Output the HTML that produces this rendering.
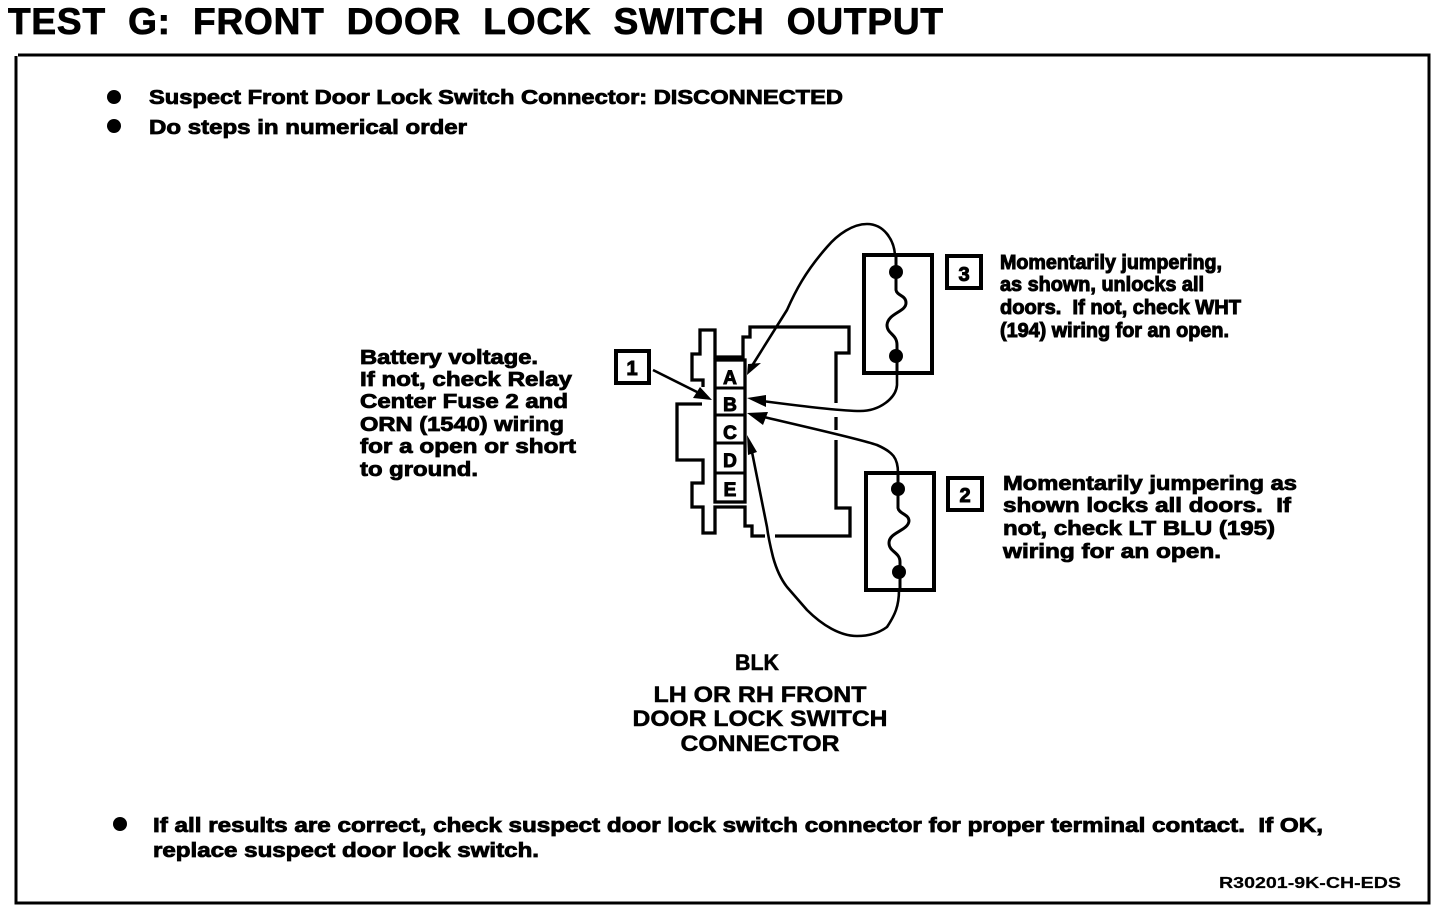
<!DOCTYPE html>
<html><head><meta charset="utf-8"><style>
html,body{margin:0;padding:0;background:#fff}
svg{display:block}
text{font-family:"Liberation Sans",sans-serif;font-weight:bold;fill:#000;stroke:#000;stroke-width:.8;white-space:pre}
.s{font-size:20px}
.m{font-size:20px;stroke-width:1}
.k{font-size:22px;stroke-width:.5}
.l{stroke-width:1}
</style></head><body>
<svg width="1440" height="910" viewBox="0 0 1440 910" xmlns="http://www.w3.org/2000/svg">
<text x="8" y="34" font-size="37" textLength="935" lengthAdjust="spacing" style="stroke-width:.8">TEST  G:  FRONT  DOOR  LOCK  SWITCH  OUTPUT</text>
<path d="M18 55H1429V903H16V56" fill="none" stroke="#000" stroke-width="3"/>
<circle cx="114" cy="97" r="7"/><circle cx="114" cy="126" r="7"/><circle cx="120" cy="824" r="7"/>
<text class="s" x="149" y="104" textLength="694" lengthAdjust="spacingAndGlyphs">Suspect Front Door Lock Switch Connector: DISCONNECTED</text>
<text class="s" x="149" y="134" textLength="318" lengthAdjust="spacingAndGlyphs">Do steps in numerical order</text>
<text class="s" x="360" y="364" textLength="178" lengthAdjust="spacingAndGlyphs">Battery voltage.</text>
<text class="s" x="360" y="386" textLength="212" lengthAdjust="spacingAndGlyphs">If not, check Relay</text>
<text class="s" x="360" y="408" textLength="208" lengthAdjust="spacingAndGlyphs">Center Fuse 2 and</text>
<text class="s" x="360" y="431" textLength="204" lengthAdjust="spacingAndGlyphs">ORN (1540) wiring</text>
<text class="s" x="360" y="453" textLength="216" lengthAdjust="spacingAndGlyphs">for a open or short</text>
<text class="s" x="360" y="476" textLength="118" lengthAdjust="spacingAndGlyphs">to ground.</text>
<text class="m" x="1000" y="269" textLength="222" lengthAdjust="spacingAndGlyphs">Momentarily jumpering,</text>
<text class="m" x="1000" y="291" textLength="204" lengthAdjust="spacingAndGlyphs">as shown, unlocks all</text>
<text class="m" x="1000" y="314" textLength="241" lengthAdjust="spacingAndGlyphs">doors.  If not, check WHT</text>
<text class="m" x="1000" y="337" textLength="229" lengthAdjust="spacingAndGlyphs">(194) wiring for an open.</text>
<text class="s" x="1003" y="490" textLength="294" lengthAdjust="spacingAndGlyphs">Momentarily jumpering as</text>
<text class="s" x="1003" y="512" textLength="288" lengthAdjust="spacingAndGlyphs">shown locks all doors.  If</text>
<text class="s" x="1003" y="535" textLength="272" lengthAdjust="spacingAndGlyphs">not, check LT BLU (195)</text>
<text class="s" x="1003" y="558" textLength="218" lengthAdjust="spacingAndGlyphs">wiring for an open.</text>
<text class="k" x="757" y="670" text-anchor="middle" textLength="44" lengthAdjust="spacingAndGlyphs">BLK</text>
<text class="k" x="760" y="702" text-anchor="middle" textLength="213" lengthAdjust="spacingAndGlyphs">LH OR RH FRONT</text>
<text class="k" x="760" y="726" text-anchor="middle" textLength="255" lengthAdjust="spacingAndGlyphs">DOOR LOCK SWITCH</text>
<text class="k" x="760" y="751" text-anchor="middle" textLength="159" lengthAdjust="spacingAndGlyphs">CONNECTOR</text>
<text class="s" x="153" y="832" textLength="1170" lengthAdjust="spacingAndGlyphs">If all results are correct, check suspect door lock switch connector for proper terminal contact.  If OK,</text>
<text class="s" x="153" y="857" textLength="386" lengthAdjust="spacingAndGlyphs">replace suspect door lock switch.</text>
<text x="1219" y="888" font-size="16" textLength="182" lengthAdjust="spacingAndGlyphs" style="stroke-width:.2">R30201-9K-CH-EDS</text>
<g fill="none" stroke="#000" stroke-width="3.3">
<path d="M702 404H677V460H703V483H692V507H703V533H715V507H745V526H752V536H765"/>
<path d="M775 536H850V508H836V440M836 430V417M836 403V353H849V327H750V337H743V357H715V330H700V354H692V380H703V387"/>
<rect x="715" y="360" width="30" height="142" fill="#fff"/>
<path d="M715 388H745M715 415H745M715 443H745M715 473H745" stroke-width="3"/>
<rect x="864" y="255" width="68" height="118" stroke-width="4"/>
<rect x="866" y="473" width="68" height="117" stroke-width="4"/>
<rect x="616" y="351" width="33" height="32" stroke-width="4"/>
<rect x="947" y="256" width="34" height="32" stroke-width="4"/>
<rect x="948" y="478" width="34" height="32" stroke-width="4"/>
<g stroke-width="3">
<path d="M896 255V290C897 296 906 295 906 303C906 312 888 313 887 325C887 334 897 334 897 345V373"/>
<path d="M898 473V508C899 514 909 514 909 521C908 531 889 532 889 543C889 552 900 552 900 562V590"/>
</g>
<g stroke-width="2.6" stroke-linejoin="round">
<path d="M895 255C894 240 884 224 867 224C853 224 838 234 827 247C805 272 795 292 787 310L750 369"/>
<path d="M897 373V385C896 398 880 411 860 411C840 411 800 406 762 401"/>
<path d="M898 473C898 458 893 452 877 445C860 439 810 428 764 417"/>
<path d="M899 590C899 606 895 615 887 627C879 633 870 636 857 636C840 636 822 625 807 610L787 587C780 578 776 568 773 557C770 545 768 535 767 527L752 452"/>
</g>
<path d="M653 370L697 392" stroke-width="2.6"/>
</g>
<path d="M747 375L748 364L761 363Z"/>
<path d="M712 400L700 387L693 398Z"/>
<path d="M747 398L766 395V407Z"/>
<path d="M747 413L768 412L763 425Z"/>
<path d="M747 435L757 452L748 455Z"/>
<circle cx="896" cy="272" r="7"/><circle cx="896" cy="356" r="7"/>
<circle cx="898" cy="489" r="7"/><circle cx="899" cy="572" r="7"/>
<g text-anchor="middle">
<text class="l" x="730" y="384" font-size="19">A</text>
<text class="l" x="730" y="411" font-size="19">B</text>
<text class="l" x="730" y="439" font-size="19">C</text>
<text class="l" x="730" y="467" font-size="19">D</text>
<text class="l" x="730" y="496" font-size="19">E</text>
<text class="l" x="632" y="375" font-size="20">1</text>
<text class="l" x="964" y="281" font-size="20">3</text>
<text class="l" x="965" y="502" font-size="20">2</text>
</g>
</svg>
</body></html>
